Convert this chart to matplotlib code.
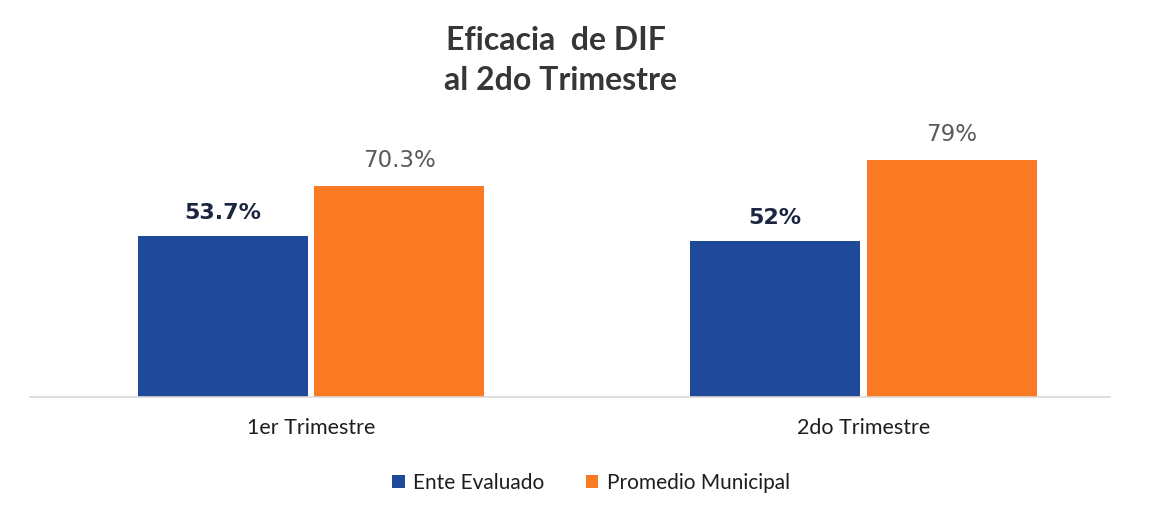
import matplotlib
matplotlib.use("Agg")
import matplotlib.pyplot as plt
import numpy as np
from matplotlib.patches import Patch

# data
categories = ["1er Trimestre", "2do Trimestre"]
ente_evaluado = [53.7, 52]
promedio_municipal = [70.3, 79]
ente_labels = ["53.7%", "52%"]
promedio_labels = ["70.3%", "79%"]
series_names = ["Ente Evaluado", "Promedio Municipal"]

BLUE = "#1f4a9a"
ORANGE = "#f97a22"
NAVY = "#1c2640"
GRAY = "#5a5a5a"

plt.rcParams["font.family"] = ["Lato", "DejaVu Sans"]

W, H = 1154, 516
fig = plt.figure(figsize=(W / 100, H / 100), dpi=100)
fig.patch.set_facecolor("white")

# axes placed in pixel terms: baseline at y=397, spans x 30..1110
ax = fig.add_axes([30 / W, 119 / H, 1080 / W, 297 / H])
ax.set_ylim(0, 99)
ax.set_xlim(-0.509, 1.447)

x = np.arange(len(categories))
bw = 0.308
off = 0.160
ax.bar(x - off, ente_evaluado, bw, color=BLUE, zorder=2)
ax.bar(x + off, promedio_municipal, bw, color=ORANGE, zorder=2)

for xi, v, lab in zip(x, ente_evaluado, ente_labels):
    ax.annotate(lab, (xi - off, v), xytext=(0, 9), textcoords="offset points",
                ha="center", va="bottom", fontsize=16, fontweight="bold",
                color=NAVY, family=["DejaVu Sans"])
for xi, v, lab in zip(x, promedio_municipal, promedio_labels):
    ax.annotate(lab, (xi + off, v), xytext=(0, 10), textcoords="offset points",
                ha="center", va="bottom", fontsize=16.5, color=GRAY,
                family=["DejaVu Sans"])

for s in ("top", "right", "left"):
    ax.spines[s].set_visible(False)
ax.spines["bottom"].set_color("#d9d9d9")
ax.spines["bottom"].set_linewidth(1.2)
ax.set_yticks([])
ax.set_xticks(x)
ax.set_xticklabels(categories, fontsize=15.5, color="#1e1e1e")
ax.tick_params(axis="x", length=0, pad=15)

fig.text(556 / W, 1 - 40 / H, "Eficacia  de DIF", ha="center", va="center",
         fontsize=23, fontweight="bold", color="#363636")
fig.text(560 / W, 1 - 80 / H, "al 2do Trimestre", ha="center", va="center",
         fontsize=23, fontweight="bold", color="#363636")

handles = [Patch(facecolor=BLUE), Patch(facecolor=ORANGE)]
fig.legend(handles, series_names, loc="center", bbox_to_anchor=(591 / W, 1 - 483 / H),
           ncol=2, frameon=False, fontsize=15, handlelength=0.6, handleheight=0.6,
           handletextpad=0.4, columnspacing=2.0, labelcolor="#1e1e1e")

fig.savefig("out.png", dpi=100)
